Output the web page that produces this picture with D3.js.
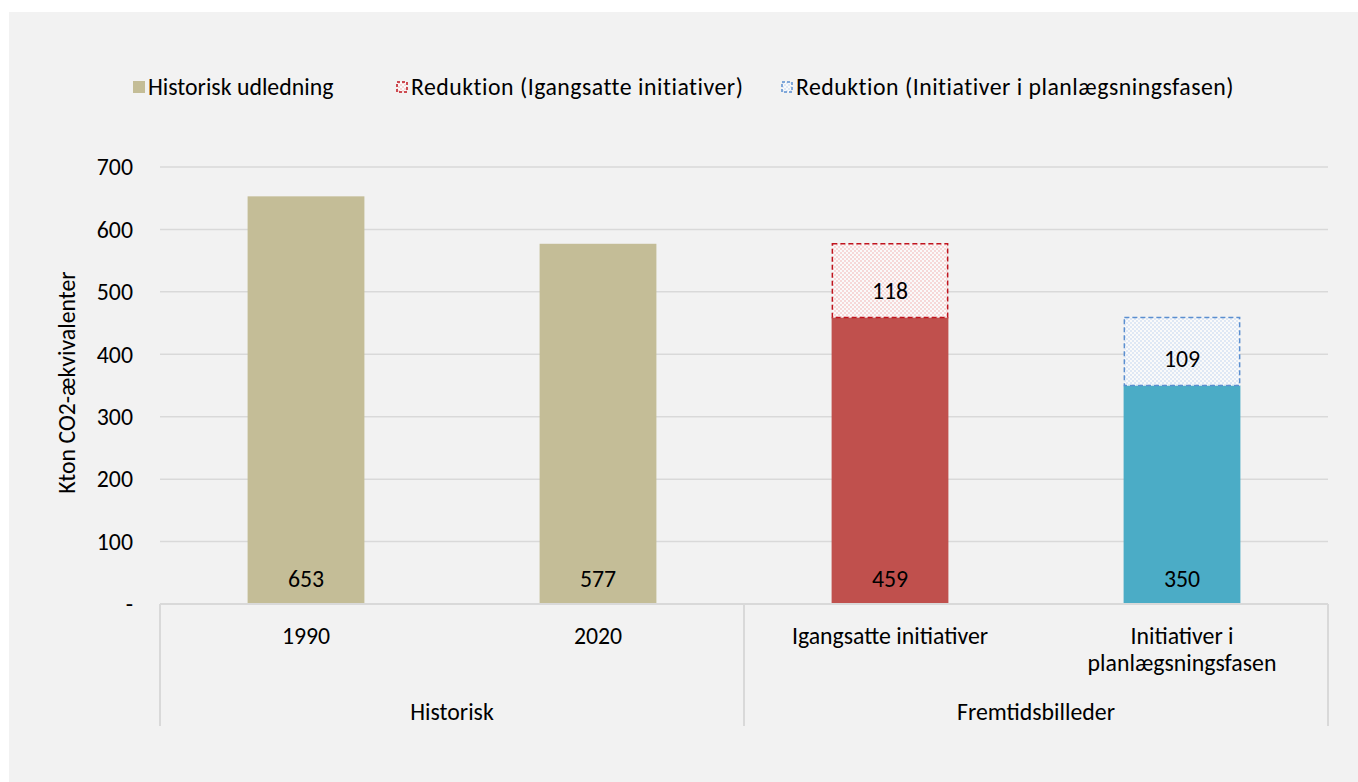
<!DOCTYPE html>
<html><head><meta charset="utf-8">
<script src="https://cdn.jsdelivr.net/npm/d3@7"></script>
<style>body{margin:0;background:#fff}svg{display:block}text{font-family:Carlito,Calibri,Lato,sans-serif;fill:#000}</style>
</head><body>
<svg id="c" width="1358" height="782"></svg>
<script>
const categories = ["1990","2020","Igangsatte initiativer","Initiativer i\nplanlægsningsfasen"];
const groups = [{name:"Historisk", from:0, to:1},{name:"Fremtidsbilleder", from:2, to:3}];
const baseValues = [653, 577, 459, 350];
const reductionValues = [0, 0, 118, 109];
const baseColors = ["#C4BD97","#C4BD97","#C0504D","#4BACC6"];
const yTicks = [0,100,200,300,400,500,600,700];
const legendLabels = ["Historisk udledning","Reduktion (Igangsatte initiativer)","Reduktion (Initiativer i planlægsningsfasen)"];
const yTitle = "Kton CO2-ækvivalenter";
const FS = 23.8;

const svg = d3.select("#c");
svg.append("rect").attr("x",9).attr("y",12).attr("width",1358-9).attr("height",782-12).attr("fill","#F2F2F2");

const defs = svg.append("defs");
function pat(id, c){
  const p = defs.append("pattern").attr("id",id).attr("width",4).attr("height",4).attr("patternUnits","userSpaceOnUse");
  p.append("rect").attr("width",4).attr("height",4).attr("fill","#FAFAFA");
  p.append("rect").attr("width",2).attr("height",2).attr("fill",c);
  p.append("rect").attr("x",2).attr("y",2).attr("width",2).attr("height",2).attr("fill",c);
}
pat("pr","#F6D8D8");
pat("pb","#DFE8F5");
const redFill = ["","","url(#pr)","url(#pb)"];
const redStroke = ["","","#C0141E","#5B8FD0"];
const labelShift = [0,0,10,7];

const L=160, R=1328, T=167, B=604;
const x = d3.scaleBand().domain(categories).range([L,R]).paddingInner(0.6).paddingOuter(0.3);
const y = d3.scaleLinear().domain([0,700]).range([B,T]);

svg.append("g").selectAll("line").data(yTicks.slice(1)).join("line")
  .attr("x1",L).attr("x2",R).attr("y1",d=>y(d)).attr("y2",d=>y(d))
  .attr("stroke","#D9D9D9").attr("stroke-width",1.5);

svg.append("g").selectAll("text").data(yTicks).join("text")
  .attr("x",133).attr("y",d=>y(d)).attr("dy","0.35em").attr("text-anchor","end")
  .attr("font-size",FS).text(d=>d===0?"-":d);

svg.append("text").attr("transform",`translate(75,${(T+B)/2 - 3}) rotate(-90)`)
  .attr("text-anchor","middle").attr("font-size",FS).text(yTitle);

const g = svg.append("g");
categories.forEach((c,i)=>{
  g.append("rect").attr("x",x(c)).attr("width",x.bandwidth())
    .attr("y",y(baseValues[i])).attr("height",y(0)-y(baseValues[i])).attr("fill",baseColors[i]);
  if(reductionValues[i]>0){
    const top = baseValues[i]+reductionValues[i];
    g.append("rect").attr("x",x(c)+0.75).attr("width",x.bandwidth()-1.5)
      .attr("y",y(top)).attr("height",y(baseValues[i])-y(top))
      .attr("fill",redFill[i]).attr("stroke",redStroke[i]).attr("stroke-width",1.5).attr("stroke-dasharray","5,3");
    g.append("text").attr("x",x(c)+x.bandwidth()/2).attr("y",y(baseValues[i]+reductionValues[i]/2)+labelShift[i]).attr("dy","0.35em")
      .attr("text-anchor","middle").attr("font-size",FS).text(reductionValues[i]);
  }
  g.append("text").attr("x",x(c)+x.bandwidth()/2).attr("y",y(0)-25).attr("dy","0.35em")
    .attr("text-anchor","middle").attr("font-size",FS).text(baseValues[i]);
});

const ax = svg.append("g").attr("stroke","#D9D9D9").attr("stroke-width",2);
ax.append("line").attr("x1",L).attr("x2",R).attr("y1",B).attr("y2",B);
const step = x.step();
const sepX = [L, L+step*2, R];
sepX.forEach(sx=> ax.append("line").attr("x1",sx).attr("x2",sx).attr("y1",B).attr("y2",726));

categories.forEach(c=>{
  const lines = c.split("\n");
  const t = svg.append("text").attr("x",x(c)+x.bandwidth()/2).attr("y",636)
    .attr("text-anchor","middle").attr("font-size",FS);
  lines.forEach((l,j)=>t.append("tspan").attr("x",x(c)+x.bandwidth()/2).attr("dy",j===0?"0.35em":"1.1em").text(l));
});
groups.forEach(gr=>{
  const cx = (L+step*gr.from + L+step*(gr.to+1))/2;
  svg.append("text").attr("x",cx).attr("y",712).attr("dy","0.35em").attr("text-anchor","middle").attr("font-size",FS).text(gr.name);
});

const lx = [133, 396, 781];
lx.forEach((px,i)=>{
  if(i===0) svg.append("rect").attr("x",px).attr("y",81).attr("width",12).attr("height",12).attr("fill","#C4BD97");
  else svg.append("rect").attr("x",px+1).attr("y",82).attr("width",10).attr("height",10)
    .attr("fill",i===1?"url(#pr)":"url(#pb)").attr("stroke",i===1?"#C0141E":"#5B8FD0").attr("stroke-width",1.5).attr("stroke-dasharray","3,2");
  svg.append("text").attr("x",px+15).attr("y",87).attr("dy","0.35em").attr("font-size",FS)
    .attr("letter-spacing", i===0?0:0.5).text(legendLabels[i]);
});
</script>
</body></html>
